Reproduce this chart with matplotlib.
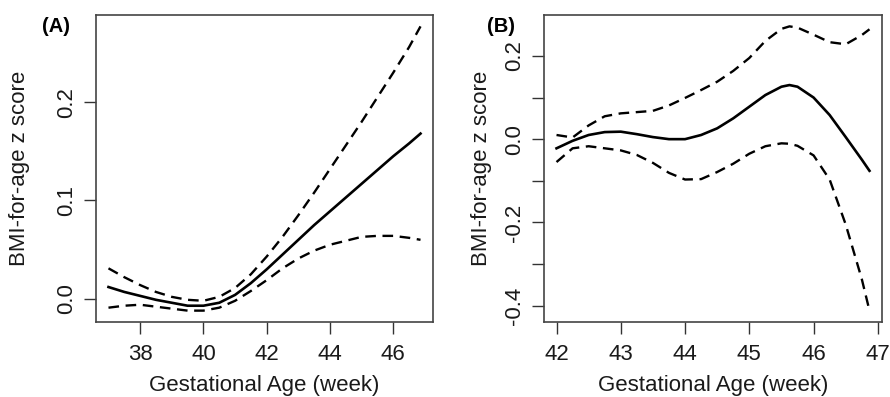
import matplotlib
matplotlib.use("Agg")
import matplotlib.pyplot as plt
import numpy as np

plt.rcParams['font.family'] = ['Liberation Sans', 'DejaVu Sans']

# Panel A: gestational age 37-47 weeks
age_a = [37, 37.5, 38, 38.5, 39, 39.5, 40, 40.5, 41, 41.5, 42, 42.5, 43,
         43.5, 44, 44.5, 45, 45.5, 46, 46.5, 46.86]
fit_a = [0.012, 0.007, 0.003, -0.001, -0.004, -0.007, -0.007, -0.004, 0.004,
         0.016, 0.030, 0.045, 0.060, 0.075, 0.089, 0.103, 0.117, 0.131,
         0.145, 0.158, 0.168]
upper_a = [0.031, 0.022, 0.014, 0.007, 0.002, -0.001, -0.002, 0.002, 0.011,
           0.025, 0.043, 0.063, 0.085, 0.108, 0.132, 0.156, 0.180, 0.205,
           0.230, 0.256, 0.277]
lower_a = [-0.009, -0.007, -0.006, -0.008, -0.010, -0.012, -0.012, -0.009,
           -0.002, 0.008, 0.019, 0.031, 0.041, 0.049, 0.055, 0.059, 0.063,
           0.064, 0.064, 0.062, 0.060]

# Panel B: gestational age 42-47 weeks
age_b = [42, 42.25, 42.5, 42.75, 43, 43.25, 43.5, 43.75, 44, 44.25, 44.5,
         44.75, 45, 45.25, 45.5, 45.625, 45.75, 46, 46.25, 46.5, 46.75, 46.87]
fit_b = [-0.022, -0.004, 0.010, 0.017, 0.018, 0.012, 0.005, 0.000, 0.000,
         0.010, 0.026, 0.050, 0.078, 0.106, 0.126, 0.130, 0.126, 0.100,
         0.058, 0.005, -0.049, -0.076]
upper_b = [0.010, 0.004, 0.033, 0.055, 0.062, 0.065, 0.068, 0.081, 0.099,
           0.118, 0.138, 0.164, 0.195, 0.236, 0.265, 0.271, 0.268, 0.251,
           0.233, 0.228, 0.250, 0.264]
lower_b = [-0.055, -0.022, -0.017, -0.022, -0.027, -0.038, -0.057, -0.081,
           -0.097, -0.096, -0.079, -0.059, -0.035, -0.017, -0.010, -0.011,
           -0.016, -0.039, -0.097, -0.205, -0.336, -0.412]

xticks_a = [38, 40, 42, 44, 46]
yticks_a = [0.0, 0.1, 0.2]
ylabels_a = ["0.0", "0.1", "0.2"]
xticks_b = [42, 43, 44, 45, 46, 47]
yticks_b = [-0.4, -0.3, -0.2, -0.1, 0.0, 0.1, 0.2]
ylabels_b = ["-0.4", "", "-0.2", "", "0.0", "", "0.2"]

W, H = 890, 397
fig = plt.figure(figsize=(W / 100, H / 100), dpi=100)

# axes boxes in pixels (left, right, top, bottom)
box_a = (96, 433, 15, 322)
box_b = (544, 882, 15, 322)

dash = (0, (4.5, 2.8))


def r_pad(vals, frac=0.04):
    # R's default 4% axis extension
    lo, hi = min(vals), max(vals)
    d = (hi - lo) * frac
    return lo - d, hi + d


panels = [
    (box_a, age_a, fit_a, upper_a, lower_a, xticks_a, yticks_a, ylabels_a,
     "(A)", 20, 42),
    (box_b, age_b, fit_b, upper_b, lower_b, xticks_b, yticks_b, ylabels_b,
     "(B)", 482, 487),
]

for box, x, fit, up, lo, xt, yt, ylab, tag, ylab_x, tag_x in panels:
    l, r, t, b = box
    ax = fig.add_axes([l / W, 1 - b / H, (r - l) / W, (b - t) / H])
    ax.plot(x, fit, color="black", lw=1.9)
    ax.plot(x, up, color="black", lw=1.7, linestyle=dash)
    ax.plot(x, lo, color="black", lw=1.7, linestyle=dash)
    ax.set_xlim(*r_pad(x))
    ax.set_ylim(*r_pad(lo + up + fit))
    ax.set_xticks(xt)
    ax.set_yticks(yt)
    ax.set_yticklabels(ylab, rotation=90, va="center")
    ax.tick_params(axis="both", direction="out", length=8.5, width=1.0,
                   labelsize=16, color="#333333", labelcolor="#1a1a1a")
    ax.tick_params(axis="x", pad=7)
    ax.tick_params(axis="y", pad=5)
    for s in ax.spines.values():
        s.set_linewidth(1.2)
        s.set_color("#444444")
    ax.set_xlabel("Gestational Age (week)", fontsize=16, color="#1a1a1a")
    ax.set_ylabel("BMI-for-age z score", fontsize=16, color="#1a1a1a")
    ax.xaxis.label.set_va("center")
    ax.yaxis.label.set_va("center")
    ax.xaxis.set_label_coords(0.5, (b - 386) / (b - t))
    ax.yaxis.set_label_coords((ylab_x - l) / (r - l), 0.5)
    fig.text(tag_x / W, 1 - 26 / H, tag, fontsize=14.5, fontweight="bold",
             ha="left", va="center")

fig.savefig("out.png", dpi=100)
